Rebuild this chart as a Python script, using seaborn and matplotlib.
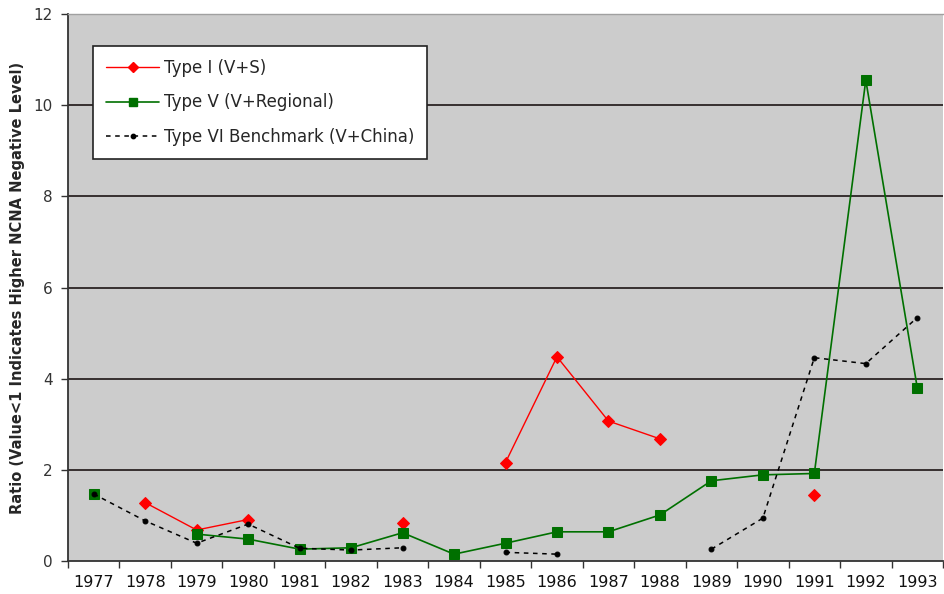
import numpy as np
import pandas as pd
import seaborn as sns
import matplotlib.pyplot as plt
from matplotlib.lines import Line2D

years = [str(y) for y in range(1977, 1994)]

# valores (nan = sem ponto)
nan = np.nan
type_i = [nan, 1.28, 0.68, 0.91, nan, nan, 0.83, nan, 2.16, 4.48, 3.07, 2.68, nan, nan, 1.45, nan, nan]
type_v = [1.47, nan, 0.59, 0.48, 0.26, 0.29, 0.62, 0.15, 0.39, 0.64, 0.64, 1.01, 1.76, 1.89, 1.92, 10.55, 3.80]
type_vi = [1.47, 0.88, 0.39, 0.81, 0.28, 0.24, 0.29, nan, 0.19, 0.15, nan, nan, 0.26, 0.94, 4.46, 4.33, 5.34]

labels = ['Type I (V+S)', 'Type V (V+Regional)', 'Type VI Benchmark (V+China)']


def segmentos(valores):
    # separa em trechos contínuos para não ligar pontos através de lacunas
    df = pd.DataFrame({'x': np.arange(len(valores)), 'y': valores})
    df['seg'] = df['y'].isna().cumsum()
    return df.dropna()


sns.set_style('white')
plt.rcParams['font.family'] = ['DejaVu Sans']

fig = plt.figure(figsize=(9.44, 5.94), dpi=100)
ax = fig.add_axes([68 / 944, 33 / 594, 875 / 944, 547 / 594])
ax.set_facecolor('#cccccc')

estilos = [
    dict(color='#ff0000', marker='D', markersize=6, linewidth=1.0, linestyle='-'),
    dict(color='#007000', marker='s', markersize=7, linewidth=1.2, linestyle='-'),
    dict(color='#000000', marker='o', markersize=3.5, linewidth=1.1, linestyle=(0, (3, 3))),
]
series = [type_i, type_v, type_vi]

for valores, st in zip(series, estilos):
    d = segmentos(valores)
    sns.lineplot(data=d, x='x', y='y', units='seg', estimator=None, sort=False,
                 legend=False, ax=ax, color=st['color'], marker=st['marker'],
                 markersize=st['markersize'], linewidth=st['linewidth'],
                 linestyle=st['linestyle'], markeredgecolor=st['color'], zorder=3)

ax.set_xlim(-0.5, len(years) - 0.5)
ax.set_ylim(0, 12)

# eixo x: marcas nas bordas das categorias, rótulos no centro
ax.set_xticks(np.arange(-0.5, len(years), 1.0))
ax.set_xticklabels([])
ax.set_xticks(np.arange(len(years)), minor=True)
ax.set_xticklabels(years, minor=True, fontsize=11.5, color='#111111')
ax.tick_params(axis='x', which='major', direction='out', length=5, width=1, color='#333333', bottom=True)
ax.tick_params(axis='x', which='minor', length=0, pad=10)

ax.set_yticks(range(0, 13, 2))
ax.set_yticklabels([str(v) for v in range(0, 13, 2)], fontsize=11, color='#333333')
ax.tick_params(axis='y', direction='out', length=5, width=1, color='#333333', left=True, pad=6)

for v in range(2, 12, 2):
    ax.axhline(v, color='#2b2323', linewidth=1.3, zorder=1)

for s in ['left', 'bottom']:
    ax.spines[s].set_color('#333333')
    ax.spines[s].set_linewidth(1.3)
ax.spines['top'].set_color('#a0a0a0')
ax.spines['top'].set_linewidth(1.0)
ax.spines['right'].set_visible(False)

ax.set_xlabel('')
ax.set_ylabel('Ratio (Value<1 Indicates Higher NCNA Negative Level)',
              fontsize=10.5, fontweight='bold', labelpad=6)

handles = [Line2D([], [], color=st['color'], marker=st['marker'],
                  markersize=st['markersize'] * 0.9, linewidth=st['linewidth'],
                  linestyle=st['linestyle']) for st in estilos]
leg = ax.legend(handles, labels, loc='upper left', bbox_to_anchor=(0.029, 0.941),
                frameon=True, fancybox=False, fontsize=12, handlelength=3.2,
                handletextpad=0.3, labelspacing=1.0, borderpad=0.75, borderaxespad=0)
leg.get_frame().set_edgecolor('#222222')
leg.get_frame().set_linewidth(1.2)
leg.get_frame().set_facecolor('white')
leg.get_frame().set_alpha(1)

fig.savefig('out.png', dpi=100)
